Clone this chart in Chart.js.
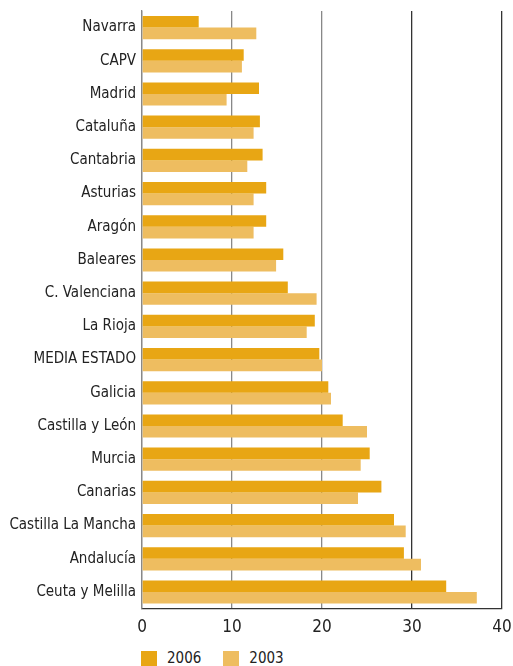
<!DOCTYPE html>
<html>
<head>
<meta charset="utf-8">
<script src="https://cdn.jsdelivr.net/npm/chart.js@4/dist/chart.umd.min.js"></script>
<style>
    body { margin: 0; background: #fff; font-family: "DejaVu Sans Condensed", "DejaVu Sans", sans-serif; overflow: hidden; }
    .wrap { position: relative; width: 513px; height: 648px; }
    .legend { position: absolute; left: 141px; top: 649px; display: flex; font-size: 15px; color: #222; }
    .legend span { display: flex; align-items: center; margin-right: 22px; }
    .legend i { display: inline-block; width: 16px; height: 15px; margin-right: 10px; }
</style>
</head>
<body>
<div class="wrap"><canvas id="chart"></canvas></div>
<div class="legend" id="legend"></div>
<script>
    const regions = ['Navarra', 'CAPV', 'Madrid', 'Cataluña', 'Cantabria', 'Asturias', 'Aragón', 'Baleares',
        'C. Valenciana', 'La Rioja', 'MEDIA ESTADO', 'Galicia', 'Castilla y León', 'Murcia', 'Canarias',
        'Castilla La Mancha', 'Andalucía', 'Ceuta y Melilla'];
    const values2006 = [6.3, 11.3, 13.0, 13.1, 13.4, 13.8, 13.8, 15.7, 16.2, 19.2, 19.7, 20.7, 22.3, 25.3, 26.6, 28.0, 29.1, 33.8];
    const values2003 = [12.7, 11.1, 9.4, 12.4, 11.7, 12.4, 12.4, 14.9, 19.4, 18.3, 20.0, 21.0, 25.0, 24.3, 24.0, 29.3, 31.0, 37.2];
    const xTicks = [0, 10, 20, 30, 40];

    const color2006 = '#E8A614';
    const color2003 = '#EEBD60';

    const ctx = document.getElementById('chart').getContext('2d');

    const chart = new Chart(ctx, {
        type: 'bar',
        data: {
            labels: regions,
            datasets: [
                { label: '2006', data: values2006, backgroundColor: color2006 },
                { label: '2003', data: values2003, backgroundColor: color2003 }
            ]
        },
        options: {
            indexAxis: 'y',
            responsive: true,
            maintainAspectRatio: false,
            animation: false,
            categoryPercentage: 0.7,
            barPercentage: 1.0,
            layout: { padding: { top: 11, right: 11, bottom: 1, left: 0 } },
            scales: {
                x: {
                    min: xTicks[0],
                    max: xTicks[xTicks.length - 1],
                    afterBuildTicks: (scale) => {
                        scale.ticks = xTicks.map(v => ({ value: v }));
                    },
                    // keep the plot edges fixed, labels may overhang
                    afterFit: (scale) => { scale.paddingLeft = 0; scale.paddingRight = 0; },
                    ticks: {
                        color: '#222',
                        padding: 9,
                        font: { family: '"DejaVu Sans Condensed", "DejaVu Sans"', size: 17 }
                    },
                    grid: {
                        drawTicks: false,
                        color: (c) => (c.tick && c.tick.value >= 30 ? '#333' : '#888'),
                        lineWidth: 1.3
                    },
                    border: { display: true, color: '#333', width: 1.3 }
                },
                y: {
                    afterFit: (scale) => {
                        scale.width = 142;
                        scale.paddingTop = 0;
                        scale.paddingBottom = 0;
                    },
                    ticks: {
                        color: '#222',
                        padding: 6,
                        font: { family: '"DejaVu Sans Condensed", "DejaVu Sans"', size: 15 }
                    },
                    grid: { display: false, drawTicks: false },
                    border: { display: true, color: '#888', width: 1.3 }
                }
            },
            plugins: {
                legend: { display: false },
                tooltip: { enabled: false }
            }
        }
    });

    // simple html legend under the plot
    const legend = document.getElementById('legend');
    chart.data.datasets.forEach(ds => {
        const item = document.createElement('span');
        item.innerHTML = '<i style="background:' + ds.backgroundColor + '"></i>' + ds.label;
        legend.appendChild(item);
    });
</script>
</body>
</html>
